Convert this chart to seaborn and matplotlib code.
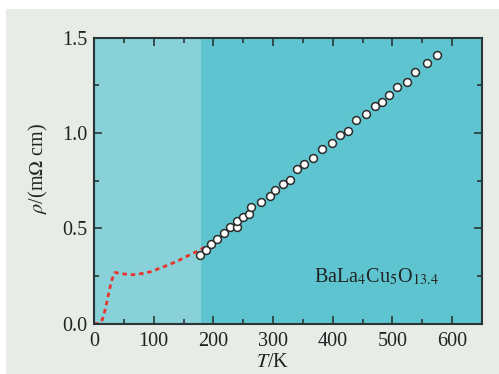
import numpy as np
import pandas as pd
import matplotlib
matplotlib.use("Agg")
import matplotlib.pyplot as plt
from matplotlib.patches import Rectangle
from matplotlib.ticker import MultipleLocator
import seaborn as sb

# measured points (white circles)
temp_pts = [178, 188, 196, 206, 217, 228, 239, 240, 250, 260, 263, 279, 294, 303,
            317, 328, 340, 352, 367, 382, 398, 412, 425, 439, 456, 470, 483, 494,
            508, 525, 538, 557, 575]
rho_pts = [0.360, 0.386, 0.418, 0.444, 0.477, 0.508, 0.508, 0.537, 0.560, 0.576,
           0.612, 0.638, 0.669, 0.700, 0.733, 0.753, 0.810, 0.838, 0.869, 0.916,
           0.947, 0.991, 1.009, 1.067, 1.100, 1.140, 1.164, 1.200, 1.242, 1.267,
           1.322, 1.366, 1.407]

# red dashed curve
temp_line = [0, 8, 14, 18, 22, 26, 30, 35, 50, 65, 80, 95, 110, 125, 140, 155,
             170, 185, 200, 215, 230, 245, 255]
rho_line = [0.0, 0.0, 0.02, 0.065, 0.12, 0.18, 0.23, 0.268, 0.26, 0.256, 0.262,
            0.272, 0.29, 0.308, 0.328, 0.352, 0.375, 0.40, 0.43, 0.465, 0.50,
            0.535, 0.555]

df_pts = pd.DataFrame({"T": temp_pts, "rho": rho_pts})
df_line = pd.DataFrame({"T": temp_line, "rho": rho_line})

sb.set_style("ticks")
plt.rcParams["font.family"] = ["Liberation Serif", "DejaVu Serif"]
plt.rcParams["mathtext.fontset"] = "stix"

fig = plt.figure(figsize=(4.99, 3.74), dpi=100, facecolor="#e7ece7")
# white margins on top and left
fig.patches.append(Rectangle((0, 0.976), 1, 0.03, transform=fig.transFigure,
                             facecolor="white", edgecolor="none", zorder=-1))
fig.patches.append(Rectangle((0, 0), 0.012, 1, transform=fig.transFigure,
                             facecolor="white", edgecolor="none", zorder=-1))
ax = fig.add_axes([0.1884, 0.135, 0.7776, 0.764])
ax.set_facecolor("#5ec5d0")

# shaded low temperature region
ax.axvspan(0, 180, color="#88d1d8", lw=0, zorder=0)

sb.lineplot(data=df_line, x="T", y="rho", ax=ax, color="#e8342c", lw=2,
            linestyle=(0, (1.6, 1.4)), sort=False, estimator=None, zorder=2)
sb.scatterplot(data=df_pts, x="T", y="rho", ax=ax, s=32, color="white",
               edgecolor="#2b2b2b", linewidth=1.1, zorder=3)

ax.set_xlim(0, 650)
ax.set_ylim(0, 1.5)
ax.xaxis.set_minor_locator(MultipleLocator(50))
ax.yaxis.set_minor_locator(MultipleLocator(0.25))
ax.set_xticks(range(0, 700, 100))
ax.set_xticklabels([str(v) for v in range(0, 700, 100)])
ax.set_yticks([0, 0.5, 1.0, 1.5])
ax.set_yticklabels(["0.0", "0.5", "1.0", "1.5"])
ax.tick_params(which="both", direction="in", top=True, right=True,
               color="#2b3535", width=1.2, labelsize=14.5, labelcolor="#222222")
ax.tick_params(axis="x", pad=6)
ax.tick_params(axis="y", pad=5)
ax.tick_params(which="major", length=6)
ax.tick_params(which="minor", length=3.5)
for sp in ax.spines.values():
    sp.set_color("#2b3535")
    sp.set_linewidth(1.5)

ax.set_xlabel(r"$T$/K", fontsize=14.5, color="#222222")
ax.set_ylabel(r"$\rho$/(m$\Omega$ cm)", fontsize=14.5, color="#222222")
ax.xaxis.set_label_coords(0.459, -0.137)
ax.yaxis.set_label_coords(-0.144, 0.544)
ax.xaxis.label.set_va("center")
ax.yaxis.label.set_va("center")

ax.text(368, 0.242, r"BaLa$_4$Cu$_5$O$_{13.4}$", fontsize=14.5, color="#222222",
        va="center", ha="left")

plt.savefig("out.png", dpi=100, facecolor=fig.get_facecolor())
